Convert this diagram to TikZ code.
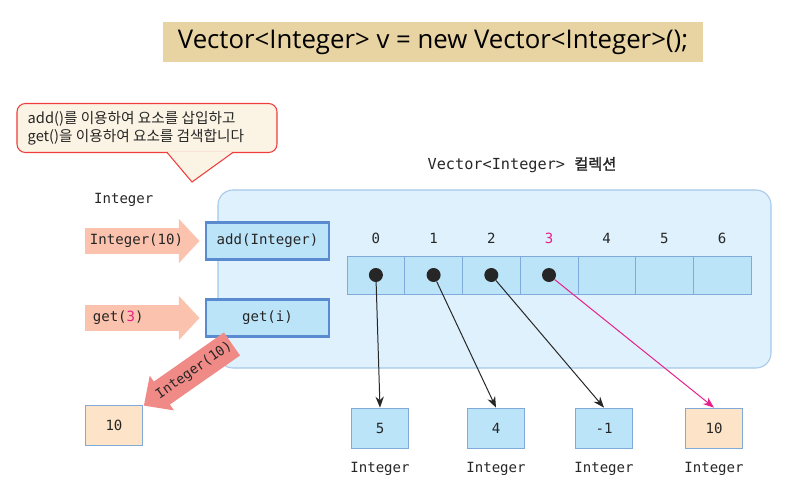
\documentclass[tikz,border=0pt]{standalone}
\usepackage{fontspec}
\setmainfont{Open Sans}
\setmonofont{DejaVu Sans Mono}
\newfontfamily\kr{Noto Sans CJK KR}
\newfontfamily\krb[FakeBold=1.5]{Noto Sans CJK KR}
\usepackage{tikz}
\usetikzlibrary{positioning, arrows.meta, shapes.geometric}

\definecolor{titlefill}{HTML}{E8D3A2}
\definecolor{notefill}{HTML}{FBF3E3}
\definecolor{notered}{HTML}{F03C3C}
\definecolor{vecfill}{HTML}{DFF1FC}
\definecolor{vecline}{HTML}{A6C9EA}
\definecolor{cellfill}{HTML}{BCE4F8}
\definecolor{cellline}{HTML}{80AADA}
\definecolor{methline}{HTML}{5A8BD0}
\definecolor{peach}{HTML}{FDE4C8}
\definecolor{pinkarrow}{HTML}{FBC2AD}
\definecolor{redarrow}{HTML}{F08A87}
\definecolor{magenta}{HTML}{E8208A}
\definecolor{ink}{HTML}{262626}

\begin{document}
\begin{tikzpicture}[
    x=0.03cm, y=-0.03cm,
    monotext/.style={font=\ttfamily\fontsize{12}{14}\selectfont, text=ink},
    titlebox/.style={rectangle, fill=titlefill, minimum width=16.2cm, minimum height=1.2cm,
        font=\fontsize{22}{26}\selectfont},
    notebox/.style={rectangle, rounded corners=0.25cm, draw=notered, line width=0.9pt, fill=notefill,
        minimum width=7.8cm, minimum height=1.47cm},
    notetext/.style={align=left, font=\kr\fontsize{12.5}{15.5}\selectfont, text=ink, inner sep=0pt},
    vecbox/.style={rectangle, rounded corners=0.45cm, draw=vecline, line width=0.9pt, fill=vecfill,
        minimum width=16.59cm, minimum height=5.34cm},
    cell/.style={rectangle, draw=cellline, fill=cellfill, line width=0.6pt,
        minimum width=1.731cm, minimum height=1.14cm},
    method/.style={rectangle, draw=methline, fill=cellfill, line width=2.2pt,
        minimum width=3.7cm, minimum height=1.1cm, monotext},
    intbox/.style={rectangle, draw=cellline, fill=cellfill, line width=0.6pt,
        minimum width=1.71cm, minimum height=1.2cm, monotext},
    valbox/.style={intbox, fill=peach},
    dot/.style={circle, fill=black!85, inner sep=0pt, minimum size=0.42cm},
    fatarrow/.style={draw=pinkarrow, line width=0.78cm,
        -{Triangle[length=0.62cm, width=1.29cm, color=pinkarrow]}},
    retarrow/.style={draw=redarrow, line width=0.84cm,
        -{Triangle[length=0.66cm, width=1.23cm, color=redarrow]}},
    ref/.style={-{Stealth[length=0.33cm, width=0.25cm]}, line width=0.85pt, black!85}
]
\useasboundingbox (0,0) rectangle (800,502);

% Declaration
\node[titlebox] (decl) at (433,42) {Vector<Integer> v = new Vector<Integer>();};

% Note bubble
\node[notebox] (note) at (147,128) {};
\coordinate (tailL) at (167,152.4);
\coordinate (tailR) at (233,152.4);
\coordinate (tailtip) at (192,182);
\fill[notefill] ([yshift=0.6pt]tailL) -- (tailtip) -- ([yshift=0.6pt]tailR) -- cycle;
\draw[notered, line width=0.9pt, line join=miter] (tailL) -- (tailtip) -- (tailR);
\node[notetext, right=0.33cm of note.west] (notetxt) {add()를 이용하여 요소를 삽입하고\\get()을 이용하여 요소를 검색합니다};

% Vector collection
\node[vecbox] (vec) at (494.5,279) {};
\node[monotext, font=\ttfamily\fontsize{13}{15}\selectfont] (veclabel) at (522,165) {Vector<Integer> {\krb 컬렉션}};

\foreach \i in {0,...,6} {
    \node[cell] (c\i) at (375.9+57.7*\i,275) {};
}
\foreach \i in {0,1,2,4,5,6} {
    \node[monotext] (idx\i) at (375.9+57.7*\i,238) {\i};
}
\node[monotext, text=magenta] (idx3) at (375.9+57.7*3,238) {3};
\foreach \i in {0,...,3} {
    \node[dot] (d\i) at (c\i) {};
}

% Methods
\node[monotext, anchor=west] (typelabel) at (90,200) {Integer};
\node[method] (add) at (267.5,241) {add(Integer)};
\node[method] (get) at (267.5,318) {get(i)};

\coordinate (in1) at (85,241);
\coordinate (in2) at (85,318);
\draw[fatarrow] (in1) -- node[monotext, pos=0.45] (argadd) {Integer(10)} ([xshift=-0.15cm]add.west);
\draw[fatarrow] (in2) -- node[monotext, pos=0.29] (argget) {get({\color{magenta}3})} ([xshift=-0.15cm]get.west);

% Returned element
\node[valbox] (ret) at (114,425) {10};
\coordinate (out) at (232,344);
\draw[retarrow] (out) -- node[monotext, sloped, pos=0.43, inner sep=1pt, font=\ttfamily\fontsize{11.5}{13}\selectfont] (retlabel) {Integer(10)} ([shift={(1,1)}]ret.north east);

% Stored elements
\node[intbox] (e0) at (380,428) {5};
\node[intbox] (e1) at (496,428) {4};
\node[intbox] (e2) at (604,428) {-1};
\node[valbox] (e3) at (714,428) {10};
\foreach \i in {0,...,3} {
    \node[monotext, below=0.3cm of e\i] (t\i) {Integer};
}

% References
\draw[ref] (d0) -- (e0.north);
\draw[ref] (d1) -- (e1.north);
\draw[ref] (d2) -- (e2.north);
\draw[ref, magenta] (d3) -- (e3.north);

\end{tikzpicture}
\end{document}
